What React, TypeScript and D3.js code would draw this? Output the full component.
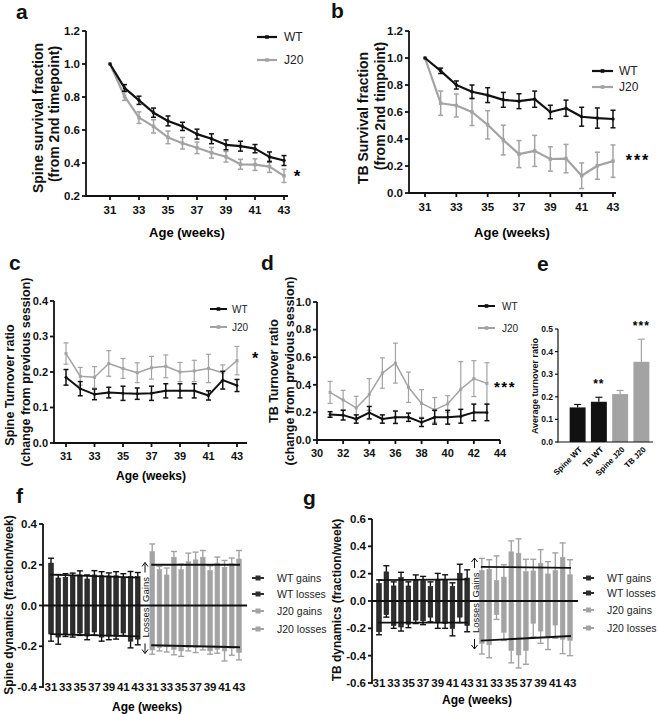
import React from 'react';
import * as d3 from 'd3';

const FONT = "'Liberation Sans', Arial, Helvetica, sans-serif";
const BLACK = '#111111';
const GREY = '#a3a3a3';
const DARKBAR = '#2e2e2e';

const weeks = [31, 32, 33, 34, 35, 36, 37, 38, 39, 40, 41, 42, 43];
const oddWeeks = [31, 33, 35, 37, 39, 41, 43];
const evenWeeksD = [30, 32, 34, 36, 38, 40, 42, 44];

// Panel a: spine survival fraction
const aWT = [1.0, 0.855, 0.78, 0.705, 0.655, 0.622, 0.575, 0.547, 0.51, 0.502, 0.487, 0.437, 0.415];
const aWTerr = [0, 0.02, 0.025, 0.028, 0.03, 0.025, 0.03, 0.03, 0.03, 0.03, 0.025, 0.03, 0.03];
const aJ20 = [1.0, 0.805, 0.675, 0.622, 0.555, 0.52, 0.492, 0.462, 0.438, 0.392, 0.39, 0.378, 0.322];
const aJ20err = [0, 0.025, 0.035, 0.04, 0.038, 0.035, 0.035, 0.032, 0.032, 0.03, 0.035, 0.035, 0.04];

// Panel b: TB survival fraction
const bWT = [1.0, 0.905, 0.8, 0.75, 0.725, 0.69, 0.68, 0.695, 0.6, 0.628, 0.565, 0.555, 0.548];
const bWTerr = [0, 0.02, 0.03, 0.05, 0.055, 0.055, 0.055, 0.06, 0.05, 0.06, 0.07, 0.075, 0.065];
const bJ20 = [1.0, 0.665, 0.648, 0.6, 0.505, 0.392, 0.288, 0.312, 0.252, 0.255, 0.128, 0.202, 0.236];
const bJ20err = [0, 0.09, 0.085, 0.1, 0.105, 0.11, 0.1, 0.115, 0.09, 0.105, 0.095, 0.1, 0.12];

// Panel c: spine turnover ratio
const cWT = [0.185, 0.153, 0.137, 0.142, 0.14, 0.139, 0.14, 0.147, 0.147, 0.147, 0.134, 0.177, 0.162];
const cWTerr = [0.022, 0.02, 0.015, 0.015, 0.02, 0.016, 0.02, 0.02, 0.02, 0.02, 0.013, 0.025, 0.017];
const cJ20 = [0.252, 0.188, 0.185, 0.224, 0.21, 0.198, 0.212, 0.216, 0.2, 0.203, 0.21, 0.198, 0.232];
const cJ20err = [0.03, 0.025, 0.03, 0.036, 0.028, 0.028, 0.032, 0.032, 0.027, 0.03, 0.04, 0.022, 0.04];

// Panel d: TB turnover ratio
const dWT = [0.185, 0.18, 0.152, 0.198, 0.152, 0.165, 0.165, 0.128, 0.165, 0.165, 0.172, 0.2, 0.2];
const dWTerr = [0.02, 0.035, 0.03, 0.045, 0.03, 0.045, 0.03, 0.03, 0.05, 0.05, 0.05, 0.06, 0.06];
const dJ20 = [0.345, 0.29, 0.232, 0.33, 0.485, 0.557, 0.382, 0.265, 0.218, 0.262, 0.368, 0.445, 0.41];
const dJ20err = [0.08, 0.07, 0.085, 0.115, 0.11, 0.145, 0.11, 0.1, 0.09, 0.06, 0.2, 0.13, 0.15];

// Panel e: average turnover ratio
const eCats = ['Spine WT', 'TB WT', 'Spine J20', 'TB J20'];
const eVals = [0.153, 0.178, 0.212, 0.355];
const eErr = [0.013, 0.02, 0.016, 0.1];
const eStars = ['', '**', '', '***'];

// Panel f: spine dynamics
const fWTgain = [0.208, 0.135, 0.138, 0.143, 0.15, 0.13, 0.15, 0.146, 0.145, 0.146, 0.138, 0.142, 0.142];
const fWTgainErr = [0.024, 0.017, 0.018, 0.016, 0.02, 0.02, 0.021, 0.02, 0.015, 0.02, 0.018, 0.025, 0.02];
const fWTloss = [-0.14, -0.155, -0.14, -0.145, -0.135, -0.15, -0.13, -0.155, -0.15, -0.15, -0.135, -0.175, -0.165];
const fWTlossErr = [0.035, 0.035, 0.012, 0.01, 0.012, 0.018, 0.015, 0.02, 0.018, 0.015, 0.012, 0.033, 0.028];
const fJ20gain = [0.265, 0.176, 0.15, 0.237, 0.176, 0.215, 0.224, 0.237, 0.172, 0.208, 0.187, 0.205, 0.228];
const fJ20gainErr = [0.037, 0.016, 0.034, 0.028, 0.027, 0.042, 0.038, 0.033, 0.023, 0.03, 0.034, 0.028, 0.042];
const fJ20loss = [-0.218, -0.207, -0.203, -0.215, -0.223, -0.207, -0.207, -0.203, -0.223, -0.215, -0.223, -0.211, -0.231];
const fJ20lossErr = [0.021, 0.016, 0.025, 0.027, 0.027, 0.016, 0.024, 0.015, 0.016, 0.019, 0.049, 0.033, 0.036];
const fTrendWTgain = [0.152, 0.137];
const fTrendWTloss = [-0.14, -0.152];
const fTrendJ20gain = [0.2, 0.2];
const fTrendJ20loss = [-0.195, -0.205];

// Panel g: TB dynamics
const gWTgain = [0.129, 0.213, 0.11, 0.172, 0.11, 0.156, 0.148, 0.105, 0.157, 0.152, 0.105, 0.203, 0.168];
const gWTgainErr = [0.025, 0.045, 0.03, 0.038, 0.03, 0.035, 0.032, 0.035, 0.045, 0.04, 0.028, 0.066, 0.06];
const gWTloss = [-0.225, -0.1, -0.18, -0.19, -0.17, -0.14, -0.145, -0.118, -0.16, -0.165, -0.2, -0.118, -0.18];
const gWTlossErr = [0.022, 0.018, 0.02, 0.03, 0.025, 0.025, 0.028, 0.035, 0.04, 0.035, 0.055, 0.04, 0.045];
const gJ20gain = [0.222, 0.232, 0.15, 0.175, 0.36, 0.35, 0.215, 0.22, 0.276, 0.198, 0.222, 0.32, 0.192];
const gJ20gainErr = [0.09, 0.07, 0.18, 0.09, 0.08, 0.105, 0.09, 0.085, 0.1, 0.09, 0.13, 0.105, 0.11];
const gJ20loss = [-0.31, -0.32, -0.1, -0.229, -0.363, -0.395, -0.363, -0.163, -0.22, -0.27, -0.176, -0.28, -0.288];
const gJ20lossErr = [0.078, 0.095, 0.035, 0.06, 0.09, 0.095, 0.1, 0.1, 0.09, 0.085, 0.097, 0.105, 0.112];
const gTrendWTgain = [0.153, 0.158];
const gTrendWTloss = [-0.158, -0.158];
const gTrendJ20gain = [0.25, 0.242];
const gTrendJ20loss = [-0.29, -0.256];

const dynLegend = ['WT gains', 'WT losses', 'J20 gains', 'J20 losses'];
const dynLegendColors = [DARKBAR, DARKBAR, GREY, GREY];

const fmt1 = (v: number) => v.toFixed(1);

type Scale = d3.ScaleLinear<number, number>;

function YAxis({ x, scale, ticks, fs, sw = 1.8, tl = 4, fmt = fmt1 }: { x: number; scale: Scale; ticks: number[]; fs: number; sw?: number; tl?: number; fmt?: (v: number) => string }) {
  const [r0, r1] = scale.range();
  return (
    <g>
      <line x1={x} x2={x} y1={r0 + sw / 2} y2={r1} stroke={BLACK} strokeWidth={sw} />
      {ticks.map((t) => (
        <g key={t}>
          <line x1={x - tl} x2={x} y1={scale(t)} y2={scale(t)} stroke={BLACK} strokeWidth={sw} />
          <text x={x - tl - 2} y={scale(t)} dy="0.35em" textAnchor="end" fontSize={fs} fontWeight="bold" fill={BLACK}>
            {fmt(t)}
          </text>
        </g>
      ))}
    </g>
  );
}

function XAxis({ y, x0, x1, scale, ticks, fs, sw = 1.8, tl = 4, labelGap = 14 }: { y: number; x0: number; x1: number; scale: Scale; ticks: number[]; fs: number; sw?: number; tl?: number; labelGap?: number }) {
  return (
    <g>
      <line x1={x0} x2={x1} y1={y} y2={y} stroke={BLACK} strokeWidth={sw} />
      {ticks.map((t) => (
        <g key={t}>
          <line x1={scale(t)} x2={scale(t)} y1={y} y2={y + tl} stroke={BLACK} strokeWidth={sw} />
          <text x={scale(t)} y={y + labelGap} dy="0.35em" textAnchor="middle" fontSize={fs} fontWeight="bold" fill={BLACK}>
            {t}
          </text>
        </g>
      ))}
    </g>
  );
}

function LineSeries({ x, y, values, errors, color, lw, ms, cap = 2.5, ew = 1.5, marker = 'square' }: { x: Scale; y: Scale; values: number[]; errors: number[]; color: string; lw: number; ms: number; cap?: number; ew?: number; marker?: string }) {
  const line = d3
    .line<number>()
    .x((_, i) => x(weeks[i]))
    .y((v) => y(v));
  return (
    <g>
      {values.map((v, i) =>
        errors[i] > 0 ? (
          <g key={i} stroke={color} strokeWidth={ew}>
            <line x1={x(weeks[i])} x2={x(weeks[i])} y1={y(v - errors[i])} y2={y(v + errors[i])} />
            <line x1={x(weeks[i]) - cap} x2={x(weeks[i]) + cap} y1={y(v - errors[i])} y2={y(v - errors[i])} />
            <line x1={x(weeks[i]) - cap} x2={x(weeks[i]) + cap} y1={y(v + errors[i])} y2={y(v + errors[i])} />
          </g>
        ) : null
      )}
      <path d={line(values) || ''} fill="none" stroke={color} strokeWidth={lw} strokeLinejoin="round" />
      {values.map((v, i) =>
        marker === 'square' ? (
          <rect key={i} x={x(weeks[i]) - ms / 2} y={y(v) - ms / 2} width={ms} height={ms} fill={color} />
        ) : (
          <circle key={i} cx={x(weeks[i])} cy={y(v)} r={ms / 2} fill={color} />
        )
      )}
    </g>
  );
}

function LineLegend({ x0, x1, tx, ys, fs, labels, colors, lw }: { x0: number; x1: number; tx: number; ys: number[]; fs: number; labels: string[]; colors: string[]; lw: number }) {
  return (
    <g>
      {labels.map((l, i) => (
        <g key={l}>
          <line x1={x0} x2={x1} y1={ys[i]} y2={ys[i]} stroke={colors[i]} strokeWidth={lw} />
          <rect x={(x0 + x1) / 2 - 1.8} y={ys[i] - 1.8} width={3.6} height={3.6} fill={colors[i]} />
          <text x={tx} y={ys[i]} dy="0.35em" fontSize={fs} fill="#222">
            {l}
          </text>
        </g>
      ))}
    </g>
  );
}

function RotLabel({ x, y, text, fs, weight = 'bold' }: { x: number; y: number; text: string; fs: number; weight?: string }) {
  return (
    <text transform={`translate(${x},${y}) rotate(-90)`} textAnchor="middle" dy="0.35em" fontSize={fs} fontWeight={weight} fill={BLACK}>
      {text}
    </text>
  );
}

function DynPanel({
  x0, slotRange, y, yTicks, axisEnd, wtG, wtGe, wtL, wtLe, jG, jGe, jL, jLe, tWG, tWL, tJG, tJL, fs,
}: {
  x0: number; slotRange: [number, number]; y: Scale; yTicks: number[]; axisEnd: number;
  wtG: number[]; wtGe: number[]; wtL: number[]; wtLe: number[]; jG: number[]; jGe: number[]; jL: number[]; jLe: number[];
  tWG: number[]; tWL: number[]; tJG: number[]; tJL: number[]; fs: number;
}) {
  const slots = [...weeks.map((w) => 'WT' + w), 'gap', ...weeks.map((w) => 'J20' + w)];
  const xs = d3.scalePoint<string>().domain(slots).range(slotRange);
  const bw = 4.6;
  const cap = 3;
  const yBottom = y.range()[0];
  const bars = (vals: number[], errs: number[], prefix: string, fill: string, stroke: string, ecol: string) =>
    vals.map((v, i) => {
      const cx = xs(prefix + weeks[i]) as number;
      const top = Math.min(y(v), y(0));
      const h = Math.abs(y(v) - y(0));
      const ee = v >= 0 ? y(v + errs[i]) : y(v - errs[i]);
      return (
        <g key={prefix + i + (v >= 0 ? 'g' : 'l')}>
          <line x1={cx} x2={cx} y1={y(v)} y2={ee} stroke={ecol} strokeWidth={1.4} />
          <line x1={cx - cap} x2={cx + cap} y1={ee} y2={ee} stroke={ecol} strokeWidth={1.4} />
          <rect x={cx - bw / 2} y={top} width={bw} height={h} fill={fill} stroke={stroke} strokeWidth={0.6} />
        </g>
      );
    });
  const trend = (vals: number[], prefix: string) => {
    const xa = (xs(prefix + weeks[0]) as number) - 1;
    const xb = (xs(prefix + weeks[weeks.length - 1]) as number) + 1;
    return <line x1={xa} x2={xb} y1={y(vals[0])} y2={y(vals[1])} stroke={BLACK} strokeWidth={1.8} />;
  };
  const gx = xs('gap') as number;
  const labelWeeks = [...oddWeeks.map((w) => 'WT' + w), ...oddWeeks.map((w) => 'J20' + w)];
  return (
    <g>
      {bars(jG, jGe, 'J20', GREY, GREY, GREY)}
      {bars(jL, jLe, 'J20', GREY, GREY, GREY)}
      {bars(wtG, wtGe, 'WT', DARKBAR, BLACK, BLACK)}
      {bars(wtL, wtLe, 'WT', DARKBAR, BLACK, BLACK)}
      {trend(tWG, 'WT')}
      {trend(tWL, 'WT')}
      {trend(tJG, 'J20')}
      {trend(tJL, 'J20')}
      <line x1={x0} x2={axisEnd} y1={y(0)} y2={y(0)} stroke={BLACK} strokeWidth={1.8} />
      <YAxis x={x0} scale={y} ticks={yTicks} fs={fs} />
      {labelWeeks.map((k) => (
        <text key={k} x={xs(k) as number} y={yBottom} dy="0.35em" textAnchor="middle" fontSize={fs} fontWeight="bold" fill={BLACK}>
          {k.replace('WT', '').replace('J20', '')}
        </text>
      ))}
      <g fill={BLACK} fontSize={9.5}>
        <text transform={`translate(${gx + 1},${y(0) - 16}) rotate(-90)`} textAnchor="middle" dy="0.35em" fontSize={9.5}>
          Gains
        </text>
        <text transform={`translate(${gx + 1},${y(0) + 17}) rotate(-90)`} textAnchor="middle" dy="0.35em" fontSize={9.5}>
          Losses
        </text>
      </g>
      <path
        d={`M${gx},${y(0) - 33} L${gx},${y(0) - 43} M${gx - 3},${y(0) - 39} L${gx},${y(0) - 43} L${gx + 3},${y(0) - 39}`}
        fill="none" stroke={BLACK} strokeWidth={1}
      />
      <path
        d={`M${gx},${y(0) + 38} L${gx},${y(0) + 48} M${gx - 3},${y(0) + 44} L${gx},${y(0) + 48} L${gx + 3},${y(0) + 44}`}
        fill="none" stroke={BLACK} strokeWidth={1}
      />
    </g>
  );
}

function DynLegend({ x0, x1, tx, ys }: { x0: number; x1: number; tx: number; ys: number[] }) {
  return (
    <g>
      {dynLegend.map((l, i) => (
        <g key={l}>
          <line x1={x0} x2={x1} y1={ys[i]} y2={ys[i]} stroke={dynLegendColors[i]} strokeWidth={2} />
          <rect x={(x0 + x1) / 2 - 2.5} y={ys[i] - 2.5} width={5} height={5} fill={dynLegendColors[i]} />
          <text x={tx} y={ys[i]} dy="0.35em" fontSize={10.5} fill="#222">
            {l}
          </text>
        </g>
      ))}
    </g>
  );
}

export default function App() {
  // Panel a scales
  const ax = d3.scaleLinear().domain([31, 43]).range([110, 284]);
  const ay = d3.scaleLinear().domain([0.2, 1.2]).range([196, 31]);
  // Panel b
  const bx = d3.scaleLinear().domain([31, 43]).range([425, 613]);
  const by = d3.scaleLinear().domain([0, 1.2]).range([193, 31]);
  // Panel c
  const cx = d3.scaleLinear().domain([31, 43]).range([66, 237]);
  const cy = d3.scaleLinear().domain([0, 0.4]).range([443, 301]);
  // Panel d
  const dx = d3.scaleLinear().domain([30, 44]).range([317, 500]);
  const dy = d3.scaleLinear().domain([0, 1.0]).range([440, 302]);
  // Panel e
  const ex = d3.scaleBand<string>().domain(eCats).range([567, 652]).paddingInner(0.25).paddingOuter(0.125);
  const ey = d3.scaleLinear().domain([0, 0.5]).range([442, 329]);
  // Panel f / g
  const fy = d3.scaleLinear().domain([-0.4, 0.4]).range([687, 524]);
  const gy = d3.scaleLinear().domain([-0.6, 0.6]).range([683, 519]);

  const letter = (t: string, x: number, y: number) => (
    <text x={x} y={y} fontSize={21} fontWeight="bold" fill={BLACK}>
      {t}
    </text>
  );

  return (
    <svg width={658} height={714} style={{ position: 'absolute', left: 0, top: 0, background: '#fff' }} fontFamily={FONT}>
      <rect width={658} height={714} fill="#fff" />
      {/* Panel a */}
      {letter('a', 16, 19)}
      <LineSeries x={ax} y={ay} values={aJ20} errors={aJ20err} color={GREY} lw={2.2} ms={3.5} />
      <LineSeries x={ax} y={ay} values={aWT} errors={aWTerr} color={BLACK} lw={2.2} ms={3.5} marker="circle" />
      <YAxis x={86} scale={ay} ticks={[0.2, 0.4, 0.6, 0.8, 1.0, 1.2]} fs={11.5} />
      <XAxis y={196} x0={86} x1={288} scale={ax} ticks={oddWeeks} fs={11.5} />
      <text x={187} y={232} dy="0.35em" textAnchor="middle" fontSize={13} fontWeight="bold">Age (weeks)</text>
      <RotLabel x={38} y={118} text="Spine survival fraction" fs={14} />
      <RotLabel x={54} y={114} text="(from 2nd timepoint)" fs={14} />
      <LineLegend x0={257} x1={277} tx={284} ys={[37, 60]} fs={12} labels={['WT', 'J20']} colors={[BLACK, GREY]} lw={2.2} />
      <text x={297} y={173} dy="0.55em" textAnchor="middle" fontSize={17} fontWeight="bold">*</text>

      {/* Panel b */}
      {letter('b', 331, 18)}
      <LineSeries x={bx} y={by} values={bJ20} errors={bJ20err} color={GREY} lw={2.2} ms={3.5} />
      <LineSeries x={bx} y={by} values={bWT} errors={bWTerr} color={BLACK} lw={2.2} ms={3.5} marker="circle" />
      <YAxis x={409} scale={by} ticks={[0, 0.2, 0.4, 0.6, 0.8, 1.0, 1.2]} fs={11.5} />
      <XAxis y={193} x0={409} x1={616} scale={bx} ticks={oddWeeks} fs={11.5} />
      <text x={512} y={232} dy="0.35em" textAnchor="middle" fontSize={13} fontWeight="bold">Age (weeks)</text>
      <RotLabel x={363} y={118} text="TB Survival fraction" fs={14} />
      <RotLabel x={380} y={106} text="(from 2nd timpoint)" fs={14} />
      <LineLegend x0={592} x1={613} tx={619} ys={[71, 87]} fs={12} labels={['WT', 'J20']} colors={[BLACK, GREY]} lw={2.2} />
      <text x={638} y={157} dy="0.55em" textAnchor="middle" fontSize={16} fontWeight="bold" letterSpacing={2}>***</text>

      {/* Panel c */}
      {letter('c', 9, 270)}
      <LineSeries x={cx} y={cy} values={cJ20} errors={cJ20err} color={GREY} lw={1.5} ms={3} ew={1.2} />
      <LineSeries x={cx} y={cy} values={cWT} errors={cWTerr} color={BLACK} lw={2} ms={3} ew={1.5} marker="circle" />
      <YAxis x={54} scale={cy} ticks={[0, 0.1, 0.2, 0.3, 0.4]} fs={11} />
      <XAxis y={443} x0={54} x1={247} scale={cx} ticks={oddWeeks} fs={11} labelGap={13} />
      <text x={151} y={476} dy="0.35em" textAnchor="middle" fontSize={12} fontWeight="bold">Age (weeks)</text>
      <RotLabel x={10} y={385} text="Spine Turnover ratio" fs={12.5} />
      <RotLabel x={26} y={372} text="(change from previous session)" fs={12.5} />
      <LineLegend x0={210} x1={227} tx={232} ys={[309, 327]} fs={10} labels={['WT', 'J20']} colors={[BLACK, GREY]} lw={2} />
      <text x={255} y={355} dy="0.55em" textAnchor="middle" fontSize={16} fontWeight="bold">*</text>

      {/* Panel d */}
      {letter('d', 261, 270)}
      <LineSeries x={dx} y={dy} values={dJ20} errors={dJ20err} color={GREY} lw={1.5} ms={3} ew={1.2} />
      <LineSeries x={dx} y={dy} values={dWT} errors={dWTerr} color={BLACK} lw={2} ms={3} ew={1.5} marker="circle" />
      <YAxis x={317} scale={dy} ticks={[0, 0.2, 0.4, 0.6, 0.8, 1.0]} fs={11} />
      <XAxis y={440} x0={317} x1={500} scale={dx} ticks={evenWeeksD} fs={11} labelGap={13} />
      <RotLabel x={274} y={371} text="TB Turnover ratio" fs={12.5} />
      <RotLabel x={290} y={371} text="(change from previous session)" fs={12.5} />
      <LineLegend x0={478} x1={495} tx={502} ys={[306, 328]} fs={10} labels={['WT', 'J20']} colors={[BLACK, GREY]} lw={2} />
      <text x={505} y={384} dy="0.55em" textAnchor="middle" fontSize={15} fontWeight="bold" letterSpacing={1.5}>***</text>

      {/* Panel e */}
      {letter('e', 537, 271)}
      {eCats.map((c, i) => {
        const bx0 = ex(c) as number;
        const bwid = ex.bandwidth();
        const col = i < 2 ? BLACK : GREY;
        const top = ey(eVals[i] + eErr[i]);
        const mid = bx0 + bwid / 2;
        return (
          <g key={c}>
            <line x1={mid} x2={mid} y1={ey(eVals[i])} y2={top} stroke={col} strokeWidth={1.2} />
            <line x1={mid - 3.5} x2={mid + 3.5} y1={top} y2={top} stroke={col} strokeWidth={1.2} />
            <rect x={bx0} y={ey(eVals[i])} width={bwid} height={ey(0) - ey(eVals[i])} fill={col} />
            {eStars[i] && (
              <text x={mid} y={top - 9} textAnchor="middle" fontSize={12} fontWeight="bold" letterSpacing={1}>
                {eStars[i]}
              </text>
            )}
            <text transform={`translate(${mid + 3},${ey(0) + 6}) rotate(-45)`} textAnchor="end" dy="0.35em" fontSize={8} fontWeight="bold">
              {c}
            </text>
          </g>
        );
      })}
      <YAxis x={558} scale={ey} ticks={[0, 0.1, 0.2, 0.3, 0.4, 0.5]} fs={8.5} sw={1.2} tl={3} />
      <line x1={558} x2={653} y1={442} y2={442} stroke={BLACK} strokeWidth={1.2} />
      <RotLabel x={535} y={386} text="Average turnover ratio" fs={9} />

      {/* Panel f */}
      {letter('f', 16, 503)}
      <DynPanel
        x0={43} slotRange={[51, 239]} y={fy} yTicks={[-0.4, -0.2, 0, 0.2, 0.4]} axisEnd={247}
        wtG={fWTgain} wtGe={fWTgainErr} wtL={fWTloss} wtLe={fWTlossErr}
        jG={fJ20gain} jGe={fJ20gainErr} jL={fJ20loss} jLe={fJ20lossErr}
        tWG={fTrendWTgain} tWL={fTrendWTloss} tJG={fTrendJ20gain} tJL={fTrendJ20loss} fs={11.5}
      />
      <DynLegend x0={252} x1={264} tx={277} ys={[578, 594, 611, 629]} />
      <text x={147} y={707} dy="0.35em" textAnchor="middle" fontSize={12} fontWeight="bold">Age (weeks)</text>
      <RotLabel x={9} y={605} text="Spine dynamics (fraction/week)" fs={12} />

      {/* Panel g */}
      {letter('g', 303, 505)}
      <DynPanel
        x0={372} slotRange={[379, 570]} y={gy} yTicks={[-0.6, -0.4, -0.2, 0, 0.2, 0.4, 0.6]} axisEnd={578}
        wtG={gWTgain} wtGe={gWTgainErr} wtL={gWTloss} wtLe={gWTlossErr}
        jG={gJ20gain} jGe={gJ20gainErr} jL={gJ20loss} jLe={gJ20lossErr}
        tWG={gTrendWTgain} tWL={gTrendWTloss} tJG={gTrendJ20gain} tJL={gTrendJ20loss} fs={11.5}
      />
      <DynLegend x0={583} x1={594} tx={607} ys={[578, 593, 610, 628]} />
      <text x={477} y={700} dy="0.35em" textAnchor="middle" fontSize={12} fontWeight="bold">Age (weeks)</text>
      <RotLabel x={337} y={600} text="TB dynamics (fraction/week)" fs={12} />
    </svg>
  );
}
